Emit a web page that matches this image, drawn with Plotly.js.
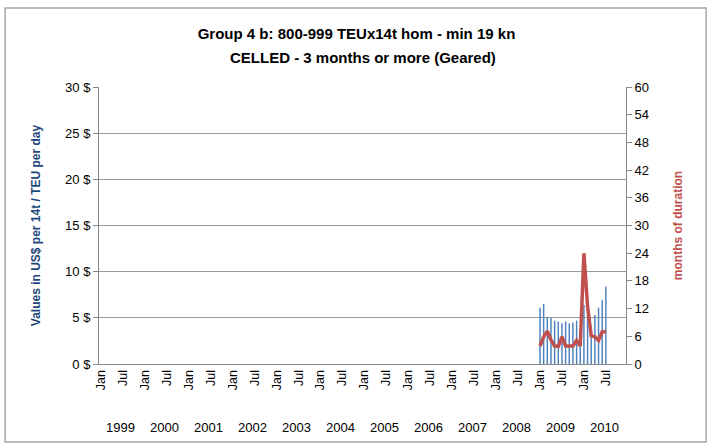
<!DOCTYPE html>
<html>
<head>
<meta charset="utf-8">
<script src="https://cdn.plot.ly/plotly-3.0.1.min.js"></script>
<style>
html,body{margin:0;padding:0;background:#fff;}
#chart{width:713px;height:446px;}
</style>
</head>
<body>
<div id="chart"></div>
<script>
// ---- data ----
const firstYear = 1999;
const years = [1999, 2000, 2001, 2002, 2003, 2004, 2005, 2006, 2007, 2008, 2009, 2010];
const tickMonthNames = ["Jan", "Jul"];
const months = ["2009-01","2009-02","2009-03","2009-04","2009-05","2009-06","2009-07","2009-08","2009-09","2009-10","2009-11","2009-12",
                "2010-01","2010-02","2010-03","2010-04","2010-05","2010-06","2010-07"];
const rateUSD = [6.1, 6.5, 5.1, 5.0, 4.7, 4.6, 4.4, 4.6, 4.4, 4.5, 4.7, 2.5,
                 6.4, 6.1, 3.0, 5.3, 6.1, 6.9, 8.4];
const durationMonths = [3.9, 5.9, 7.1, 5.2, 3.9, 3.8, 5.9, 3.9, 3.9, 3.9, 5.1, 3.9,
                        24.0, 12.5, 6.1, 5.9, 5.1, 7.0, 7.0];
const titleLine1 = "Group 4 b: 800-999 TEUx14t hom - min 19 kn";
const titleLine2 = "CELLED - 3 months or more (Geared)";

// month string -> index on the month axis (0 = Jan of firstYear)
function monthIndex(s){
  const p = s.split("-");
  return (parseInt(p[0],10) - firstYear) * 12 + (parseInt(p[1],10) - 1);
}
const xIdx = months.map(monthIndex);
const nMonths = years.length * 12;

const tickvals = [], ticktext = [];
for (let i = 0; i < nMonths; i += 6) {
  if (i <= xIdx[xIdx.length-1]) { tickvals.push(i); ticktext.push(tickMonthNames[(i/6)%2]); }
}

const FONT = "Liberation Sans, Arial, sans-serif";

const traces = [
  {
    type: "bar", x: xIdx, y: rateUSD, yaxis: "y",
    marker: {color: "#4F81BD", line: {width: 0}},
    hoverinfo: "skip", showlegend: false
  },
  {
    type: "scatter", mode: "lines", x: xIdx, y: durationMonths, yaxis: "y2",
    line: {color: "#C0504D", width: 3.5},
    hoverinfo: "skip", showlegend: false
  }
];

const annotations = years.map(y => ({
  x: (y - firstYear) * 12 + 5.5, xref: "x",
  y: -0.231, yref: "paper",
  text: String(y), showarrow: false,
  xanchor: "center", yanchor: "middle",
  font: {family: FONT, size: 13, color: "#000"}
}));
// second title line
annotations.push({
  x: 0.5, xref: "paper", y: 1.105, yref: "paper",
  text: "<b>" + titleLine2 + "</b>", showarrow: false,
  xanchor: "center", yanchor: "middle",
  font: {family: FONT, size: 15, color: "#000"}
});

const layout = {
  width: 713, height: 446,
  margin: {l: 99, r: 87, t: 87, b: 82},
  paper_bgcolor: "#fff", plot_bgcolor: "#fff",
  bargap: 0.6,
  title: {
    text: "<b>" + titleLine1 + "</b>",
    x: 0.5, xanchor: "center", yref: "container", y: 1 - 34/446, yanchor: "middle",
    font: {family: FONT, size: 15, color: "#000"}
  },
  xaxis: {
    range: [-0.5, nMonths - 0.5],
    tickmode: "array", tickvals: tickvals, ticktext: ticktext,
    tickangle: -90, ticks: "",
    tickfont: {family: FONT, size: 12.5, color: "#000"},
    showgrid: false, zeroline: false,
    showline: true, linecolor: "#868686", linewidth: 1,
    fixedrange: true
  },
  yaxis: {
    range: [0, 30], dtick: 5, tick0: 0, ticksuffix: " $",
    ticks: "outside", ticklen: 5, tickcolor: "#868686",
    tickfont: {family: FONT, size: 13, color: "#000"},
    showgrid: true, gridcolor: "#9a9a9a", gridwidth: 1,
    zeroline: false, showline: true, linecolor: "#868686", linewidth: 1,
    title: {text: "<b>Values in US$ per 14t / TEU per day</b>", standoff: 21,
            font: {family: FONT, size: 12, color: "#1F497D"}},
    fixedrange: true
  },
  yaxis2: {
    overlaying: "y", side: "right",
    range: [0, 60], dtick: 6, tick0: 0,
    ticks: "outside", ticklen: 5, tickcolor: "#868686",
    tickfont: {family: FONT, size: 13, color: "#000"},
    showgrid: false, zeroline: false,
    showline: true, linecolor: "#868686", linewidth: 1,
    title: {text: "<b>months of duration</b>", standoff: 25,
            font: {family: FONT, size: 12, color: "#C0504D"}},
    fixedrange: true
  },
  annotations: annotations,
  shapes: [{
    type: "rect", xref: "paper", yref: "paper",
    x0: -0.178, x1: 1.152, y0: -0.282, y1: 1.285,
    line: {color: "#A6A6A6", width: 1.5}, fillcolor: "rgba(0,0,0,0)", layer: "below"
  }]
};

Plotly.newPlot("chart", traces, layout, {displayModeBar: false, staticPlot: true});
</script>
</body>
</html>
